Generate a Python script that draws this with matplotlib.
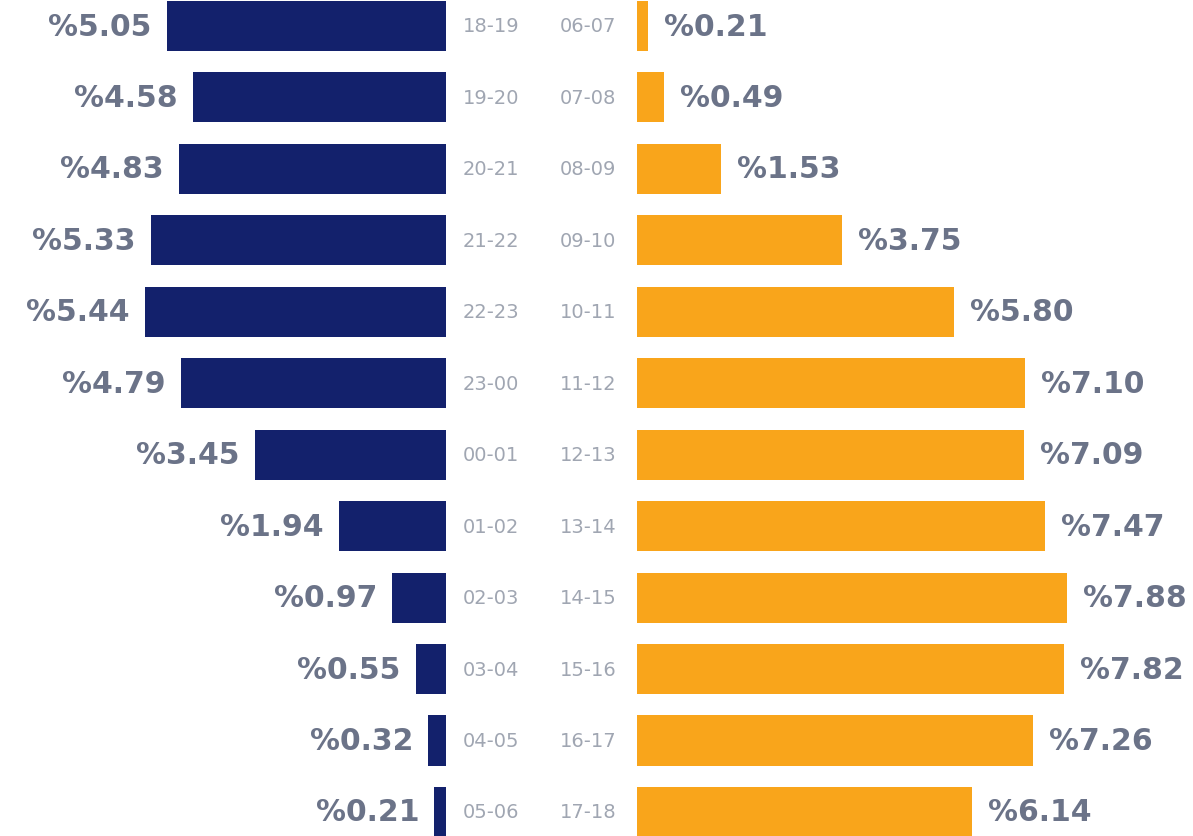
import matplotlib
matplotlib.use("Agg")
import matplotlib.pyplot as plt
import numpy as np

# evening/night hours (left, dark blue) and day hours (right, orange)
left_hours = ["18-19", "19-20", "20-21", "21-22", "22-23", "23-00",
              "00-01", "01-02", "02-03", "03-04", "04-05", "05-06"]
left_values = [5.05, 4.58, 4.83, 5.33, 5.44, 4.79, 3.45, 1.94, 0.97, 0.55, 0.32, 0.21]
left_labels = ["%5.05", "%4.58", "%4.83", "%5.33", "%5.44", "%4.79",
               "%3.45", "%1.94", "%0.97", "%0.55", "%0.32", "%0.21"]

right_hours = ["06-07", "07-08", "08-09", "09-10", "10-11", "11-12",
               "12-13", "13-14", "14-15", "15-16", "16-17", "17-18"]
right_values = [0.21, 0.49, 1.53, 3.75, 5.80, 7.10, 7.09, 7.47, 7.88, 7.82, 7.26, 6.14]
right_labels = ["%0.21", "%0.49", "%1.53", "%3.75", "%5.80", "%7.10",
                "%7.09", "%7.47", "%7.88", "%7.82", "%7.26", "%6.14"]

BLUE = "#13216c"
ORANGE = "#f9a51b"
VAL_COLOR = "#6b7388"
HOUR_COLOR = "#a0a6b2"

W, H = 1193, 837
fig = plt.figure(figsize=(W / 100, H / 100), dpi=100)

PX_LEFT = 55.3
PX_RIGHT = 54.6
row_step = 71.45
first_center = 27.0
ylim = (-first_center / row_step, (H - first_center) / row_step)

left_edge = 446
right_edge = 637

ax_l = fig.add_axes([0, 0, left_edge / W, 1])
ax_r = fig.add_axes([right_edge / W, 0, (W - right_edge) / W, 1])

y = np.arange(len(left_values))

ax_l.barh(y, left_values, height=0.7, color=BLUE)
ax_l.set_xlim(left_edge / PX_LEFT, 0)
ax_r.barh(y, right_values, height=0.7, color=ORANGE)
ax_r.set_xlim(0, (W - right_edge) / PX_RIGHT)

for ax in (ax_l, ax_r):
    ax.set_ylim(ylim[1], ylim[0])
    ax.axis("off")

for i, (v, lab) in enumerate(zip(left_values, left_labels)):
    ax_l.annotate(lab, (v, i), xytext=(-11, 0), textcoords="offset points",
                  ha="right", va="center", fontsize=21.5, fontweight="bold",
                  color=VAL_COLOR, annotation_clip=False)
for i, (v, lab) in enumerate(zip(right_values, right_labels)):
    ax_r.annotate(lab, (v, i), xytext=(11.5, 0), textcoords="offset points",
                  ha="left", va="center", fontsize=21.5, fontweight="bold",
                  color=VAL_COLOR, annotation_clip=False)

# hour labels between the two halves
for i, (lh, rh) in enumerate(zip(left_hours, right_hours)):
    yf = 1 - (first_center + row_step * i) / H
    fig.text(491 / W, yf, lh, ha="center", va="center", fontsize=14, color=HOUR_COLOR)
    fig.text(588 / W, yf, rh, ha="center", va="center", fontsize=14, color=HOUR_COLOR)

fig.savefig("out.png", dpi=100, facecolor="white")
